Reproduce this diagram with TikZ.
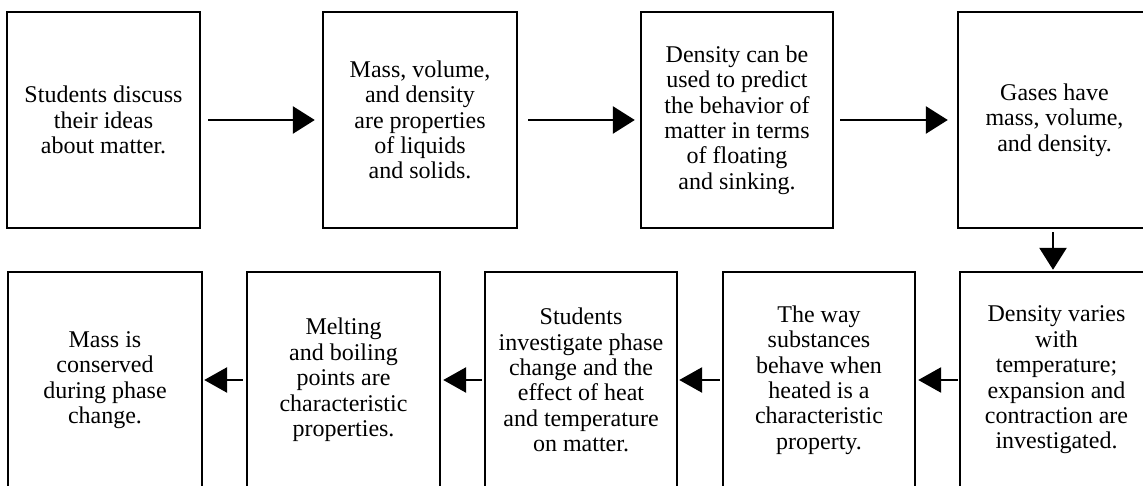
\documentclass[tikz,border=0pt]{standalone}
\usepackage{fontspec}
\setmainfont{Liberation Serif}
\usetikzlibrary{arrows.meta}
\begin{document}
\begin{tikzpicture}[x=1pt,y=1pt,
  stepbox/.style={draw=black, line width=2.4pt, minimum height=216pt, align=center,
    inner sep=0pt, font=\fontsize{24}{25.4}\selectfont},
  arr/.style={line width=2.8pt, -{Triangle[length=22pt,width=27pt]}},
  sarr/.style={line width=2.8pt, -{Triangle[length=23pt,width=25pt]}}]
\useasboundingbox (0,0) rectangle (1143,485);
\clip (0,0) rectangle (1143,485);
% top row
\node[stepbox, minimum width=193pt] (b1) at (103.5,365) {Students discuss\\their ideas\\about matter.};
\node[stepbox, minimum width=194pt] (b2) at (420,365) {Mass, volume,\\and density\\are properties\\of liquids\\and solids.};
\node[stepbox, minimum width=192pt] (b3) at (737,365) {Density can be\\used to predict\\the behavior of\\matter in terms\\of floating\\and sinking.};
\node[stepbox, minimum width=193pt] (b4) at (1054.5,365) {Gases have\\mass, volume,\\and density.};
% bottom row
\node[stepbox, minimum width=193pt] (b5) at (1056.5,105) {Density varies\\with\\temperature;\\expansion and\\contraction are\\investigated.};
\node[stepbox, minimum width=192pt] (b6) at (819,105) {The way\\substances\\behave when\\heated is a\\characteristic\\property.};
\node[stepbox, minimum width=192pt] (b7) at (581,105) {Students\\investigate phase\\change and the\\effect of heat\\and temperature\\on matter.};
\node[stepbox, minimum width=193pt] (b8) at (343.5,105) {Melting\\and boiling\\points are\\characteristic\\properties.};
\node[stepbox, minimum width=194pt] (b9) at (105,105) {Mass is\\conserved\\during phase\\change.};
% connectors
\draw[arr, shorten <=7pt, shorten >=7pt] (b1.east) -- (b2.west);
\draw[arr, shorten <=10pt, shorten >=5pt] (b2.east) -- (b3.west);
\draw[arr, shorten <=6pt, shorten >=9pt] (b3.east) -- (b4.west);
\draw[arr, shorten <=3pt, shorten >=1pt] (b4.south -| 1053,0) -- (b5.north -| 1053,0);
\draw[sarr, shorten <=1pt, shorten >=2pt] (b5.west) -- (b6.east);
\draw[sarr, shorten <=2pt, shorten >=1pt] (b6.west) -- (b7.east);
\draw[sarr, shorten <=2pt, shorten >=2pt] (b7.west) -- (b8.east);
\draw[sarr, shorten <=3pt, shorten >=1pt] (b8.west) -- (b9.east);
\end{tikzpicture}
\end{document}
